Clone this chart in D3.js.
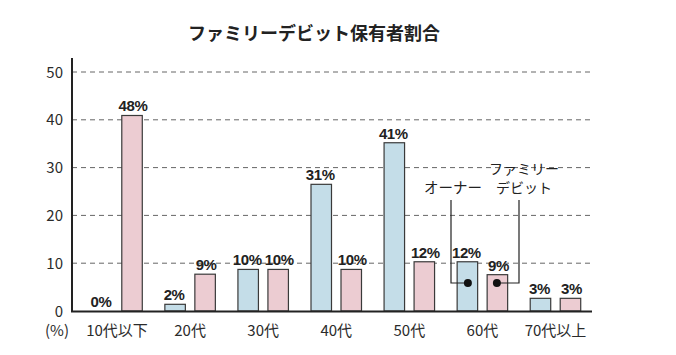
<!DOCTYPE html>
<html>
<head>
<meta charset="utf-8">
<script src="https://cdn.jsdelivr.net/npm/d3@7"></script>
<style>
html,body{margin:0;padding:0;background:#fff;}
svg{display:block;}
</style>
</head>
<body>
<svg id="chart" width="676" height="355"></svg>
<script>
const categories = ["10代以下","20代","30代","40代","50代","60代","70代以上"];
// bar heights as drawn against the 0-50 axis
const ownerHeights = [0, 1.4, 8.7, 26.5, 35.2, 10.3, 2.65];
const familyHeights = [40.9, 7.7, 8.7, 8.7, 10.3, 7.6, 2.65];
// printed value labels
const ownerLabels = ["0%","2%","10%","31%","41%","12%","3%"];
const familyLabels = ["48%","9%","10%","10%","12%","9%","3%"];
const yTicks = [0,10,20,30,40,50];
const title = "ファミリーデビット保有者割合";
const seriesNames = ["オーナー", ["ファミリー","デビット"]];

const svg = d3.select("#chart");
const x = d3.scaleBand().domain(categories).range([80.5, 592]).paddingInner(0).paddingOuter(0);
const y = d3.scaleLinear().domain([0, 50]).range([311, 72]);
const barW = 20.5, gap = 9.5;
const jp = "'Noto Sans CJK JP','Noto Sans',sans-serif";
const txt = "#2b2b2b";

// title
svg.append("text").attr("x", 314).attr("y", 40).attr("text-anchor", "middle")
  .attr("font-family", jp).attr("font-weight", "bold").attr("font-size", 18)
  .attr("fill", "#222").text(title);

// gridlines
svg.append("g").selectAll("line").data(yTicks.filter(d => d > 0)).join("line")
  .attr("x1", 72).attr("x2", 592).attr("y1", d => y(d)).attr("y2", d => y(d))
  .attr("stroke", "#666").attr("stroke-width", 1).attr("stroke-dasharray", "5,4");

// y tick labels
svg.append("g").selectAll("text").data(yTicks).join("text")
  .attr("x", 63).attr("y", d => y(d) + 5.5).attr("text-anchor", "end")
  .attr("font-family", jp).attr("font-size", 15).attr("fill", txt).text(d => d);

// bars
const groups = svg.append("g").selectAll("g").data(categories).join("g")
  .attr("transform", d => `translate(${x(d) + x.bandwidth() / 2},0)`);

const lblFont = "'Liberation Sans',Arial,sans-serif";
groups.each(function(c, i) {
  const g = d3.select(this);
  if (ownerHeights[i] > 0) {
    g.append("rect").attr("x", -gap / 2 - barW).attr("width", barW)
      .attr("y", y(ownerHeights[i])).attr("height", y(0) - y(ownerHeights[i]))
      .attr("fill", "#c4dde8").attr("stroke", "#3a3a3a").attr("stroke-width", 1.2);
  }
  g.append("rect").attr("x", gap / 2).attr("width", barW)
    .attr("y", y(familyHeights[i])).attr("height", y(0) - y(familyHeights[i]))
    .attr("fill", "#ecccd2").attr("stroke", "#3a3a3a").attr("stroke-width", 1.2);
  g.append("text").attr("x", -gap / 2 - barW / 2 - 1).attr("y", y(ownerHeights[i]) - 4)
    .attr("text-anchor", "middle").attr("font-family", lblFont).attr("letter-spacing", -0.4)
    .attr("font-weight", "bold").attr("font-size", 15).attr("fill", "#222").text(ownerLabels[i]);
  g.append("text").attr("x", gap / 2 + barW / 2 + 1).attr("y", y(familyHeights[i]) - 4)
    .attr("text-anchor", "middle").attr("font-family", lblFont).attr("letter-spacing", -0.4)
    .attr("font-weight", "bold").attr("font-size", 15).attr("fill", "#222").text(familyLabels[i]);
  g.append("text").attr("x", 0).attr("y", 336).attr("text-anchor", "middle")
    .attr("font-family", jp).attr("font-size", 15).attr("fill", txt).text(c);
});

// axes lines
svg.append("line").attr("x1", 72).attr("x2", 72).attr("y1", 58).attr("y2", 312)
  .attr("stroke", "#222").attr("stroke-width", 2);
svg.append("line").attr("x1", 71).attr("x2", 592).attr("y1", 311.5).attr("y2", 311.5)
  .attr("stroke", "#222").attr("stroke-width", 2);

// (%) unit
svg.append("text").attr("x", 57).attr("y", 336).attr("text-anchor", "middle")
  .attr("font-family", jp).attr("font-size", 15).attr("fill", txt).text("(%)");

// callouts for the 60代 group
const c60 = x("60代") + x.bandwidth() / 2;
const ownerDot = c60 - gap / 2 - barW / 2 + 0.5;
const famDot = c60 + gap / 2 + barW / 2 - 0.5;
const dotY = 283;
const call = svg.append("g");
call.append("path").attr("d", `M${451},200 V${dotY} H${ownerDot}`)
  .attr("fill", "none").attr("stroke", "#222").attr("stroke-width", 1.2);
call.append("path").attr("d", `M${519},200 V${dotY} H${famDot}`)
  .attr("fill", "none").attr("stroke", "#222").attr("stroke-width", 1.2);
call.append("circle").attr("cx", ownerDot).attr("cy", dotY).attr("r", 4).attr("fill", "#111");
call.append("circle").attr("cx", famDot).attr("cy", dotY).attr("r", 4).attr("fill", "#111");
call.append("text").attr("x", 453).attr("y", 193).attr("text-anchor", "middle")
  .attr("font-family", jp).attr("font-size", 14.5).attr("fill", "#222").text(seriesNames[0]);
call.append("text").attr("x", 524).attr("y", 174).attr("text-anchor", "middle")
  .attr("font-family", jp).attr("font-size", 14).attr("fill", "#222").text(seriesNames[1][0]);
call.append("text").attr("x", 524).attr("y", 193).attr("text-anchor", "middle")
  .attr("font-family", jp).attr("font-size", 14).attr("fill", "#222").text(seriesNames[1][1]);
</script>
</body>
</html>
